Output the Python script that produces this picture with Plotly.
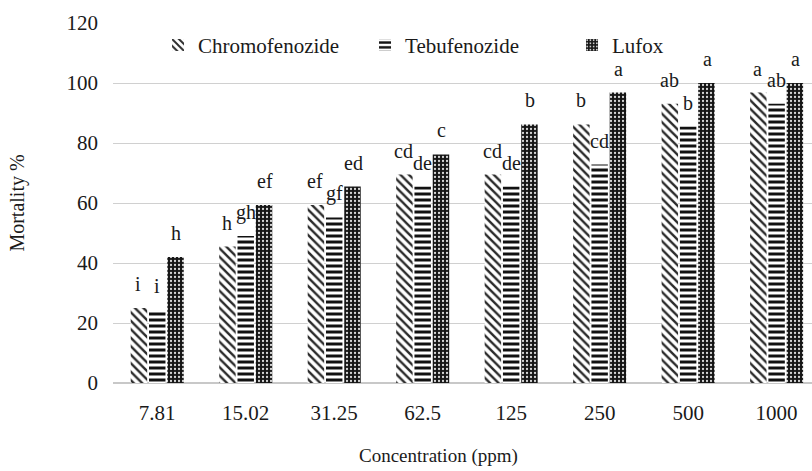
import plotly.graph_objects as go

categories = ["7.81", "15.02", "31.25", "62.5", "125", "250", "500", "1000"]
series_names = ["Chromofenozide", "Tebufenozide", "Lufox"]
chromofenozide = [25, 45.5, 59.3, 69.5, 69.5, 86.2, 93.1, 96.8]
tebufenozide = [24.3, 49, 55.2, 65.5, 65.5, 72.8, 85.5, 93.1]
lufox = [42, 59.3, 65.5, 76.2, 86.2, 96.8, 100, 100]
letters_chromo = ["i", "h", "ef", "cd", "cd", "b", "ab", "a"]
letters_tebu = ["i", "gh", "gf", "de", "de", "cd", "b", "ab"]
letters_lufox = ["h", "ef", "ed", "c", "b", "a", "a", "a"]
y_ticks = [0, 20, 40, 60, 80, 100, 120]

FONT = "Liberation Serif"
TXT = "#1a1a1a"

fig = go.Figure()
fig.add_trace(go.Bar(
    name=series_names[0], x=categories, y=chromofenozide,
    marker=dict(color="white", line=dict(width=0),
                pattern=dict(shape="\\", fgcolor="#2a2a2a", bgcolor="white",
                             size=6, solidity=0.4, fillmode="replace")),
))
fig.add_trace(go.Bar(
    name=series_names[1], x=categories, y=tebufenozide,
    marker=dict(color="white", line=dict(width=0),
                pattern=dict(shape="-", fgcolor="#111111", bgcolor="white",
                             size=6, solidity=0.5, fillmode="replace")),
))
fig.add_trace(go.Bar(
    name=series_names[2], x=categories, y=lufox,
    marker=dict(color="#151515", line=dict(width=0),
                pattern=dict(shape=".", fgcolor="#d8d8d8", bgcolor="#151515",
                             size=4, solidity=0.25, fillmode="replace")),
))

annotations = []
for vals, letters, shift in [(chromofenozide, letters_chromo, -19),
                             (tebufenozide, letters_tebu, 0),
                             (lufox, letters_lufox, 19)]:
    for i, (v, t) in enumerate(zip(vals, letters)):
        annotations.append(dict(
            x=i, y=v, text=t, showarrow=False, xref="x", yref="y",
            xshift=shift, yshift=24, yanchor="middle", xanchor="center",
            font=dict(family=FONT, size=20, color=TXT),
        ))

annotations.append(dict(
    text="Concentration (ppm)", x=0.465, xref="paper", y=0, yref="paper",
    yshift=-73, yanchor="middle", showarrow=False,
    font=dict(family=FONT, size=19, color=TXT),
))

fig.update_layout(
    width=812, height=471,
    margin=dict(l=113, r=0, t=23, b=88, autoexpand=False),
    paper_bgcolor="white", plot_bgcolor="white",
    barmode="group", bargap=0.38, bargroupgap=0.1,
    font=dict(family=FONT, size=20, color=TXT),
    showlegend=True,
    autotypenumbers="strict",
    legend=dict(orientation="h", x=0.0644, xanchor="left", y=0.995, yanchor="top",
                bgcolor="rgba(255,255,255,0)", font=dict(family=FONT, size=21, color=TXT),
                entrywidth=162, entrywidthmode="pixels",
                itemwidth=30, tracegroupgap=0),
    shapes=[dict(type="rect", xref="paper", yref="paper", x0=0.064, x1=0.7725,
                 y0=0.9, y1=1.02, fillcolor="white", line=dict(width=0),
                 layer="between")],
    annotations=annotations,
    yaxis=dict(range=[0, 120], tickvals=y_ticks, showgrid=True, gridcolor="#d0d0d0",
               gridwidth=1, zeroline=True, zerolinecolor="#c8c8c8", zerolinewidth=1.5,
               showline=False, ticks="", tickfont=dict(size=21), ticklabelstandoff=14,
               title=dict(text="Mortality %", font=dict(size=20), standoff=36)),
)
fig.update_xaxes(type="category", categoryorder="array", categoryarray=categories,
                 range=[-0.5, 7.4], showgrid=False, showline=False, ticks="",
                 tickfont=dict(size=21), ticklabelstandoff=15)

fig.write_html("out.html", config={"displayModeBar": False},
               post_script="document.body.style.margin='0';")
